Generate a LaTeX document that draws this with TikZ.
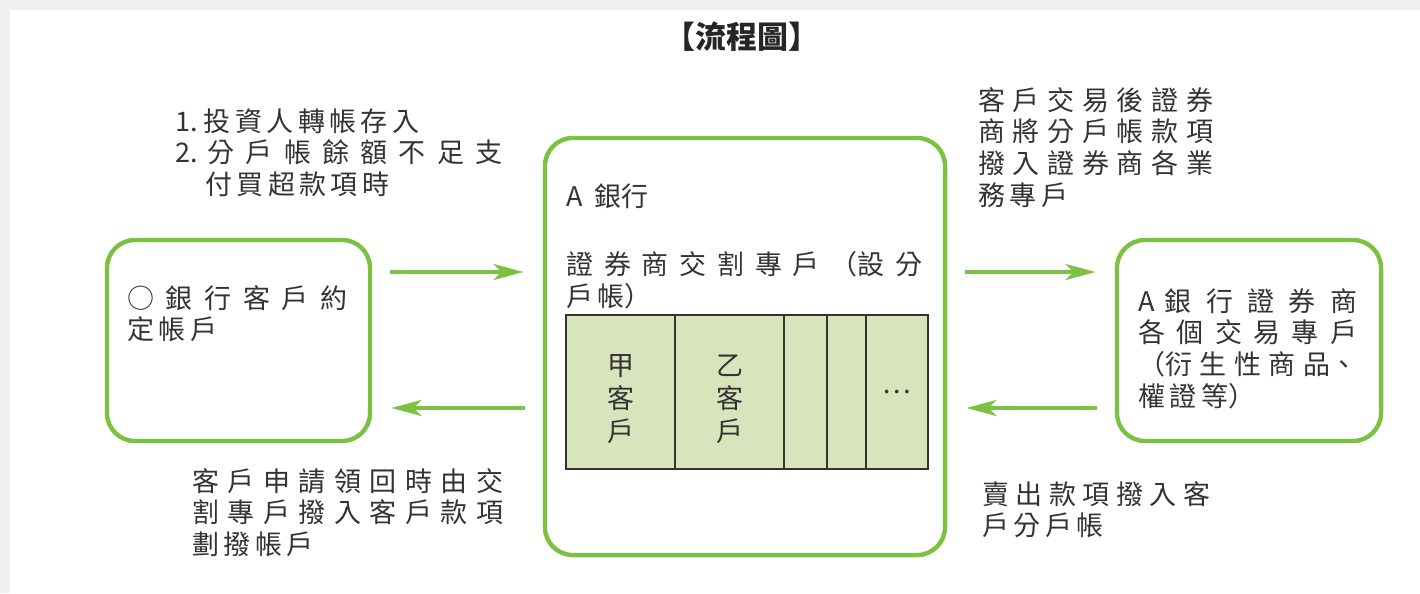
\documentclass[tikz,border=0pt]{standalone}
\usepackage{fontspec}
\newfontfamily\cjk{Noto Sans CJK TC}
\newfontfamily\cjktitle{Noto Sans CJK TC}
\usepackage{tikz}
\usetikzlibrary{positioning}
\usetikzlibrary {arrows.meta}
\XeTeXlinebreaklocale "zh"
\XeTeXlinebreakskip=0.11cm plus 4pt
\definecolor{acctgreen}{RGB}{125,193,66}
\definecolor{cellgreen}{RGB}{216,228,188}
\definecolor{inkgray}{RGB}{51,51,51}
\definecolor{pagegray}{RGB}{240,240,240}

\begin{document}
\begin{tikzpicture}[x=0.025cm,y=-0.025cm,
        acct/.style={draw=acctgreen, line width=0.11cm, rounded corners=0.7cm},
        flow/.style={draw=acctgreen, line width=0.09cm, -{Stealth[length=0.75cm,width=0.4cm,inset=0.2cm]}, shorten <=0.45cm, shorten >=0.48cm},
        note/.style={inner sep=0pt, anchor=north west, align=justify, text=inkgray, font=\cjk\fontsize{19.2pt}{22.5pt}\selectfont},
        cell/.style={draw=inkgray, fill=cellgreen, line width=0.05cm, minimum height=3.85cm, outer sep=0pt, inner sep=0pt, anchor=west, align=center, text=inkgray, font=\cjk\fontsize{19.2pt}{23.5pt}\selectfont},
    ]
    % page
    \fill[pagegray] (0,0) rectangle (1420,593);
    \fill[white] (10,10) rectangle (1420,593);
    \node[font=\cjktitle\bfseries\fontsize{22pt}{24pt}\selectfont, text=black!85] (title) at (742,37) {【流程圖】};
    % accounts
    \node[acct, minimum width=6.575cm, minimum height=5.025cm] (lacct) at (238.5,340.5) {};
    \node[acct, minimum width=10cm, minimum height=10.425cm] (abank) at (745,346.5) {};
    \node[acct, minimum width=6.6cm, minimum height=5.025cm] (tacct) at (1249,340.5) {};
    \node[note, text width=5.5cm] (lacctText) at (127,285) {○銀行客戶約\linebreak 定帳戶};
    \node[note] (abankName) at (566,184) {A\hspace*{0.3cm}銀行};
    \node[note, text width=8.9cm] (abankText) at (566,251) {證券商交割專戶（設分\linebreak 戶帳）};
    \node[note, text width=5.475cm] (tacctText) at (1138,288) {A\hspace*{0.25cm}銀行證券商\linebreak 各個交易專戶\linebreak （衍生性商品、\linebreak 權證等）};
    % sub accounts
    \node[cell, minimum width=2.725cm] (cellA) at (566,392) {\rule{0pt}{0.9cm}甲\\客\\戶};
    \node[cell, minimum width=2.725cm, right=0pt of cellA] (cellB) {\rule{0pt}{0.9cm}乙\\客\\戶};
    \node[cell, minimum width=1.075cm, right=0pt of cellB] (cellC) {};
    \node[cell, minimum width=0.975cm, right=0pt of cellC] (cellD) {};
    \node[cell, minimum width=1.55cm, right=0pt of cellD] (cellE) {…};
    % flows
    \coordinate (rowin) at (0,272);
    \coordinate (rowout) at (0,408);
    \draw[flow] (lacct.east |- rowin) -- (abank.west |- rowin);
    \draw[flow] (abank.west |- rowout) -- (lacct.east |- rowout);
    \draw[flow] (abank.east |- rowin) -- (tacct.west |- rowin);
    \draw[flow] (tacct.west |- rowout) -- (abank.east |- rowout);
    % notes
    \node[note, text width=8.175cm] (noteIn) at (175,108) {1.~投資人轉帳存入\\ 2.~分戶帳餘額不足支\linebreak \hspace*{0.75cm}付買超款項時};
    \node[note, text width=5.875cm] (noteTrade) at (978,87) {客戶交易後證券\linebreak 商將分戶帳款項\linebreak 撥入證券商各業\linebreak 務專戶};
    \node[note, text width=7.775cm] (noteOut) at (192,468) {客戶申請領回時由交\linebreak 割專戶撥入客戶款項\linebreak 劃撥帳戶};
    \node[note, text width=5.7cm] (noteSell) at (982,481) {賣出款項撥入客\linebreak 戶分戶帳};
\end{tikzpicture}
\end{document}
